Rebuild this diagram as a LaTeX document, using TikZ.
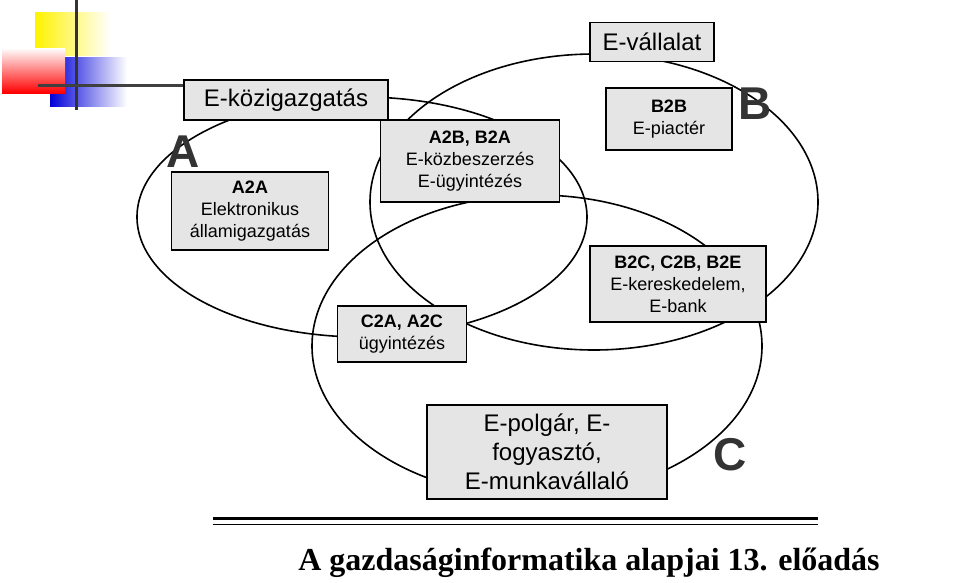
\documentclass[tikz,border=0pt]{standalone}
\usepackage{fontspec}
\setmainfont{Liberation Sans}
\newfontfamily\titlefont{Liberation Serif}
\begin{document}
\begin{tikzpicture}
[x=1pt,y=-1pt,
every node/.style={align=center,inner sep=0pt},
box/.style={draw,line width=1.5pt,fill=black!10,font=\fontsize{18}{22}\selectfont},
bigbox/.style={draw,line width=1.5pt,fill=black!10,font=\fontsize{24}{29}\selectfont},
letter/.style={font=\fontsize{46}{46}\selectfont\bfseries,text=black!80},
circ/.style={line width=1.6pt},
]
\useasboundingbox (0,0) rectangle (959,582);

% logo
\shade[left color=yellow!90!orange,right color=white] (35,12) rectangle (110,55);
\shade[left color=blue!85!black,right color=white] (50,57) rectangle (127,106);
\shade[right color=red,left color=white,shading angle=0] (2,48) rectangle (65,93);
\draw[line width=3pt,black!80] (76,0) -- (76,110);
\draw[line width=3pt,black!75] (38,85) -- (185,85);

% sets
\draw[circ] (362,217) ellipse [x radius=225,y radius=120];
\draw[circ] (594,202) ellipse [x radius=224,y radius=148];
\draw[circ] (537,346) ellipse [x radius=225,y radius=151];

\node[bigbox,minimum width=204,minimum height=40] (kozig) at (286,100) {E-közigazgatás};
\node[bigbox,minimum width=124,minimum height=39] (vall) at (652,42) {E-vállalat};
\node[box,minimum width=157,minimum height=78] (a2a) at (250,211) {\textbf{A2A}\\Elektronikus\\államigazgatás};
\node[box,minimum width=179,minimum height=82] (a2b) at (470,161) {\textbf{A2B, B2A}\\E-közbeszerzés\\E-ügyintézés};
\node[box,minimum width=126,minimum height=62] (b2b) at (669,119) {\textbf{B2B}\\E-piactér};
\node[box,minimum width=176,minimum height=76] (b2c) at (678,284) {\textbf{B2C, C2B, B2E}\\E-kereskedelem,\\E-bank};
\node[box,minimum width=129,minimum height=56] (c2a) at (402,334) {\textbf{C2A, A2C}\\ügyintézés};
\node[bigbox,minimum width=240,minimum height=94] (polg) at (547,452) {E-polgár, E-\\fogyasztó,\\E-munkavállaló};

\node[letter] (la) at (183,152) {A};
\node[letter] (lb) at (755,104) {B};
\node[letter] (lc) at (730,455) {C};

% footer
\draw[line width=3pt] (213,518) -- (818,518);
\draw[line width=1pt] (213,524) -- (818,524);
\node[font=\titlefont\bfseries\fontsize{32}{32}\selectfont] (title) at (589,563) {A gazdaságinformatika alapjai 13. előadás};
\end{tikzpicture}
\end{document}
